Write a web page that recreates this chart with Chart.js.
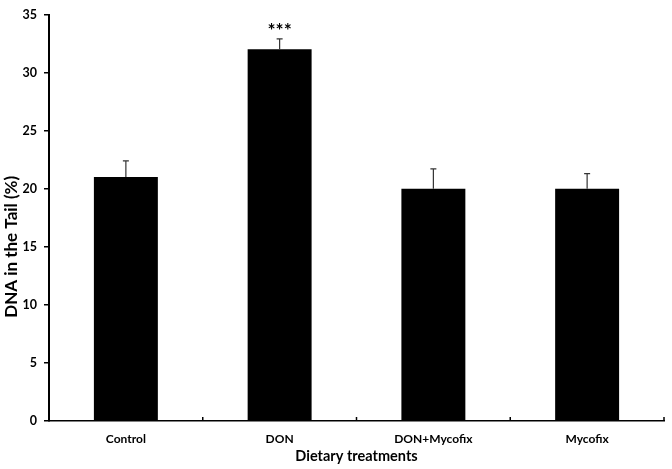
<!DOCTYPE html>
<html>
<head>
<meta charset="utf-8">
<script src="https://cdn.jsdelivr.net/npm/chart.js@4"></script>
<style>
html,body{margin:0;padding:0;background:#fff;}
#wrap{width:672px;height:469px;position:relative;}
</style>
</head>
<body>
<div id="wrap"><canvas id="c"></canvas></div>
<script>
const categories = ["Control", "DON", "DON+Mycofix", "Mycofix"];
const meanValues = [21, 32, 20, 20];
const errorValues = [1.4, 0.9, 1.7, 1.3];
const significance = ["", "***", "", ""];
const yTicks = [0, 5, 10, 15, 20, 25, 30, 35];
const yTitle = "DNA in the Tail (%)";
const xTitle = "Dietary treatments";

const FONT = "Lato, 'Open Sans', sans-serif";

const extrasPlugin = {
  id: 'extras',
  afterDatasetsDraw(chart) {
    const ctx = chart.ctx;
    const x = chart.scales.x, y = chart.scales.y;
    ctx.save();
    // error bars
    ctx.strokeStyle = '#333';
    ctx.lineWidth = 1.2;
    meanValues.forEach((v, i) => {
      const px = x.getPixelForValue(i);
      const top = y.getPixelForValue(v + errorValues[i]);
      const base = y.getPixelForValue(v);
      ctx.beginPath();
      ctx.moveTo(px, base);
      ctx.lineTo(px, top);
      ctx.moveTo(px - 3, top);
      ctx.lineTo(px + 3, top);
      ctx.stroke();
      if (significance[i]) {
        ctx.fillStyle = '#000';
        ctx.font = "bold 19px " + FONT;
        ctx.textAlign = 'center';
        ctx.textBaseline = 'middle';
        ctx.fillText(significance[i], px, top - 8);
      }
    });
    // x-axis inward tick marks between categories
    ctx.strokeStyle = '#000';
    ctx.lineWidth = 1.5;
    const half = (x.getPixelForValue(1) - x.getPixelForValue(0)) / 2;
    const yb = y.getPixelForValue(0);
    for (let i = 0; i < categories.length; i++) {
      const bx = x.getPixelForValue(i) + half;
      ctx.beginPath();
      ctx.moveTo(bx, yb);
      ctx.lineTo(bx, yb - 4);
      ctx.stroke();
    }
    // y-axis title (placed a little below the axis centre, as in the original)
    ctx.fillStyle = '#000';
    ctx.font = "bold 17px " + FONT;
    ctx.textAlign = 'center';
    ctx.textBaseline = 'middle';
    ctx.translate(12, y.getPixelForValue(15));
    ctx.rotate(-Math.PI / 2);
    ctx.fillText(yTitle, 0, 0);
    ctx.restore();
  }
};

new Chart(document.getElementById('c'), {
  type: 'bar',
  data: {
    labels: categories,
    datasets: [{
      data: meanValues,
      backgroundColor: '#000',
      borderWidth: 0,
      barPercentage: 0.416,
      categoryPercentage: 1.0
    }]
  },
  options: {
    responsive: true,
    maintainAspectRatio: false,
    animation: false,
    layout: { padding: { top: 10, right: 8, left: 0, bottom: 0 } },
    plugins: { legend: { display: false }, tooltip: { enabled: false } },
    scales: {
      x: {
        grid: { display: false, drawTicks: false },
        border: { display: true, color: '#000', width: 1.5 },
        ticks: { color: '#000', font: { family: FONT, size: 12, weight: 'bold' }, padding: 11, maxRotation: 0 },
        title: { display: true, text: xTitle, color: '#000',
                 font: { family: FONT, size: 14.5, weight: 'bold' }, padding: { top: 0, bottom: 4 } },
        afterFit(s) { s.height = 48; }
      },
      y: {
        min: 0, max: 35,
        afterBuildTicks(s) { s.ticks = yTicks.map(v => ({ value: v })); },
        grid: { display: true, drawOnChartArea: false, drawTicks: true, tickLength: 5, color: '#000', lineWidth: 1.5 },
        border: { display: true, color: '#000', width: 2 },
        ticks: { color: '#000', font: { family: FONT, size: 12.5, weight: 'bold' }, padding: 7 },
        title: { display: false },
        afterFit(s) { s.width = 49; }
      }
    }
  },
  plugins: [extrasPlugin]
});
</script>
</body>
</html>
